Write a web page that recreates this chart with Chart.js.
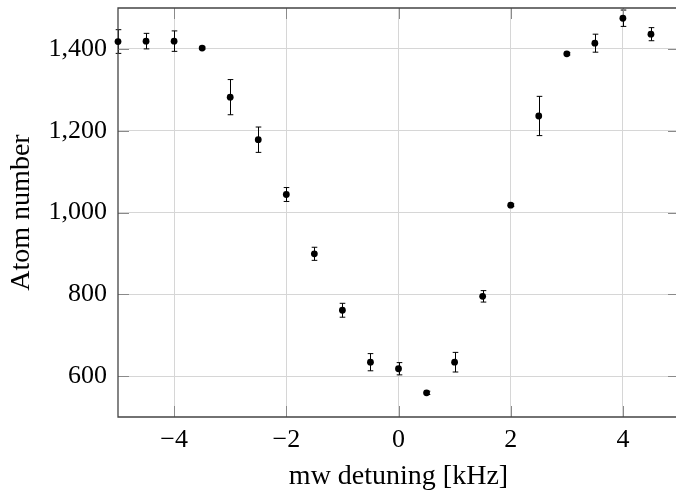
<!DOCTYPE html>
<html>
<head>
<meta charset="utf-8">
<script src="https://cdn.jsdelivr.net/npm/chart.js@4"></script>
<style>
  html, body { margin: 0; padding: 0; overflow: hidden; background: #fff; }
  /* the axis box runs a little past the right edge of the window, like the original crop */
  #wrap { width: 690px; height: 491px; }
</style>
</head>
<body>
<div id="wrap"><canvas id="chart"></canvas></div>
<script>
// data
const detuning = [-5, -4.5, -4, -3.5, -3, -2.5, -2, -1.5, -1, -0.5, 0, 0.5, 1, 1.5, 2, 2.5, 3, 3.5, 4, 4.5];
const atomNumber = [1418, 1419, 1419, 1402, 1282, 1178, 1044, 899, 761, 634, 618, 559, 634, 795, 1018, 1236, 1388, 1414, 1475, 1436];
const atomError = [29, 19, 25, 3, 43, 31, 17, 16, 17, 21, 15, 4, 24, 14, 3, 48, 3, 22, 20, 16];
const xTicks = [-4, -2, 0, 2, 4];
const yTicks = [600, 800, 1000, 1200, 1400];

const serif = 'Liberation Serif';

// error bars drawn under the dots
const errorBars = {
    id: 'errorBars',
    beforeDatasetsDraw(chart) {
        const { ctx, scales: { x, y } } = chart;
        ctx.save();
        ctx.strokeStyle = '#000';
        ctx.lineWidth = 1;
        detuning.forEach((d, i) => {
            const px = Math.round(x.getPixelForValue(d)) + 0.5;
            const top = y.getPixelForValue(atomNumber[i] + atomError[i]);
            const bot = y.getPixelForValue(atomNumber[i] - atomError[i]);
            ctx.beginPath();
            ctx.moveTo(px, top); ctx.lineTo(px, bot);
            ctx.moveTo(px - 2.8, top); ctx.lineTo(px + 2.8, top);
            ctx.moveTo(px - 2.8, bot); ctx.lineTo(px + 2.8, bot);
            ctx.stroke();
        });
        ctx.restore();
    }
};

// frame with inward tick marks (pgfplots style)
const frame = {
    id: 'frame',
    beforeDatasetsDraw(chart) {
        const { ctx, chartArea: a, scales: { x, y } } = chart;
        const len = 11;
        ctx.save();
        ctx.strokeStyle = '#8a8a8a';
        ctx.lineWidth = 1;
        ctx.beginPath();
        xTicks.forEach(v => {
            const px = Math.round(x.getPixelForValue(v)) + 0.5;
            ctx.moveTo(px, a.top); ctx.lineTo(px, a.top + len);
            ctx.moveTo(px, a.bottom); ctx.lineTo(px, a.bottom - len);
        });
        yTicks.forEach(v => {
            const py = Math.round(y.getPixelForValue(v)) + 0.5;
            ctx.moveTo(a.left, py); ctx.lineTo(a.left + len, py);
            ctx.moveTo(a.right, py); ctx.lineTo(a.right - len, py);
        });
        ctx.stroke();
        ctx.strokeStyle = '#444';
        ctx.lineWidth = 1.3;
        ctx.beginPath();
        ctx.moveTo(a.right, a.top); ctx.lineTo(a.left, a.top);
        ctx.lineTo(a.left, a.bottom); ctx.lineTo(a.right, a.bottom);
        ctx.stroke();
        ctx.restore();
    }
};

const ctx = document.getElementById('chart').getContext('2d');

new Chart(ctx, {
    type: 'scatter',
    data: {
        datasets: [{
            label: 'Atom number',
            data: detuning.map((d, i) => ({ x: d, y: atomNumber[i] })),
            backgroundColor: '#000',
            borderWidth: 0,
            pointRadius: 3.4,
            pointHoverRadius: 3.4,
            showLine: false,
            clip: false
        }]
    },
    options: {
        responsive: true,
        maintainAspectRatio: false,
        animation: false,
        layout: { padding: { top: 8, right: 11, left: 0, bottom: 0 } },
        plugins: {
            legend: { display: false },
            tooltip: { enabled: false }
        },
        scales: {
            x: {
                type: 'linear',
                min: -5,
                max: 5,
                afterBuildTicks: s => { s.ticks = xTicks.map(v => ({ value: v })); },
                afterFit: s => { s.height = 74; s.paddingLeft = 0; s.paddingRight = 0; },
                grid: { color: '#d6d6d6', lineWidth: 1, drawTicks: false },
                border: { display: false },
                ticks: {
                    padding: 8,
                    color: '#000',
                    font: { family: serif, size: 26 },
                    callback: v => (v < 0 ? '\u2212' + Math.abs(v) : String(v))
                },
                title: {
                    display: true,
                    text: 'mw detuning [kHz]',
                    color: '#000',
                    font: { family: serif, size: 28, lineHeight: 1 },
                    padding: { top: 0, bottom: 0 }
                }
            },
            y: {
                type: 'linear',
                min: 500,
                max: 1500,
                afterBuildTicks: s => { s.ticks = yTicks.map(v => ({ value: v })); },
                afterFit: s => { s.width = 118; s.paddingTop = 0; s.paddingBottom = 0; },
                grid: { color: '#d6d6d6', lineWidth: 1, drawTicks: false },
                border: { display: false },
                ticks: {
                    padding: 11,
                    color: '#000',
                    font: { family: serif, size: 26 },
                    callback: v => v.toLocaleString('en-US')
                },
                title: {
                    display: true,
                    text: 'Atom number',
                    color: '#000',
                    font: { family: serif, size: 28, lineHeight: 1 },
                    padding: { top: 8, bottom: 0 }
                }
            }
        }
    },
    plugins: [errorBars, frame]
});
</script>
</body>
</html>
